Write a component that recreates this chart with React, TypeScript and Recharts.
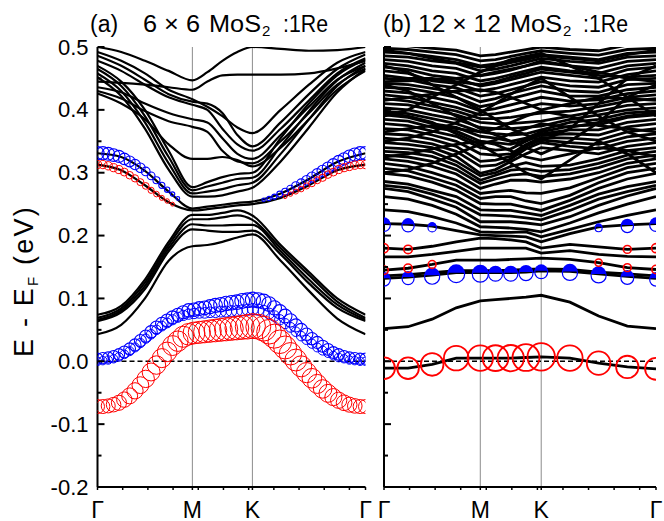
import React from 'react';
import { ComposedChart, Line, Scatter, XAxis, YAxis, ReferenceLine } from 'recharts';

const FONT = "'Liberation Sans', Arial, Helvetica, sans-serif";

// k-path sample points: Γ - M - K - Γ (0..100)
const kPts = [0, 8.85, 17.7, 26.55, 35.4, 41, 46.6, 52.2, 57.8, 68.35, 78.9, 89.45, 100];
const symK = [0, 35.4, 57.8, 100];
const symNames = ['Γ', 'M', 'K', 'Γ'];
const minorK = [9.4, 18.8, 28.2, 37.6, 47, 56.4, 65.8, 75.2, 84.6, 94];
const eTicks = [-0.2, -0.15, -0.1, -0.05, 0, 0.05, 0.1, 0.15, 0.2, 0.25, 0.3, 0.35, 0.4, 0.45, 0.5];

// ---- panel (a): 6x6 supercell bands (eV) ----
const upperA = [
  [0.500, 0.492, 0.478, 0.462, 0.447, 0.460, 0.478, 0.492, 0.500, 0.497, 0.494, 0.495, 0.500],
  [0.445, 0.443, 0.440, 0.436, 0.432, 0.445, 0.455, 0.456, 0.456, 0.456, 0.458, 0.466, 0.478],
  [0.492, 0.478, 0.458, 0.432, 0.417, 0.405, 0.390, 0.372, 0.363, 0.400, 0.440, 0.475, 0.492],
  [0.486, 0.470, 0.448, 0.425, 0.413, 0.410, 0.395, 0.360, 0.342, 0.380, 0.425, 0.465, 0.488],
  [0.478, 0.462, 0.440, 0.420, 0.408, 0.400, 0.370, 0.345, 0.335, 0.370, 0.415, 0.458, 0.482],
  [0.436, 0.428, 0.410, 0.395, 0.385, 0.380, 0.355, 0.330, 0.322, 0.360, 0.405, 0.448, 0.470],
  [0.430, 0.418, 0.398, 0.382, 0.373, 0.365, 0.335, 0.318, 0.315, 0.350, 0.395, 0.440, 0.466],
  [0.426, 0.410, 0.385, 0.345, 0.322, 0.322, 0.325, 0.320, 0.310, 0.340, 0.385, 0.432, 0.462],
];
const steepA = [
  [0.470, 0.445, 0.400, 0.335, 0.277, 0.285, 0.293, 0.298, 0.300, 0.355, 0.410, 0.455, 0.480],
  [0.465, 0.438, 0.390, 0.325, 0.272, 0.278, 0.284, 0.290, 0.292, 0.342, 0.398, 0.447, 0.475],
  [0.458, 0.430, 0.380, 0.315, 0.267, 0.270, 0.274, 0.280, 0.284, 0.330, 0.385, 0.438, 0.470],
  [0.452, 0.422, 0.370, 0.305, 0.262, 0.262, 0.264, 0.270, 0.276, 0.318, 0.372, 0.428, 0.465],
];
const lowerA = [
  [0.074, 0.088, 0.130, 0.190, 0.233, 0.233, 0.236, 0.240, 0.232, 0.185, 0.142, 0.100, 0.074],
  [0.069, 0.084, 0.125, 0.185, 0.226, 0.226, 0.229, 0.232, 0.225, 0.180, 0.137, 0.095, 0.069],
  [0.066, 0.081, 0.120, 0.180, 0.218, 0.216, 0.216, 0.217, 0.217, 0.175, 0.130, 0.090, 0.066],
  [0.064, 0.078, 0.115, 0.175, 0.210, 0.208, 0.206, 0.206, 0.208, 0.170, 0.124, 0.085, 0.064],
  [0.043, 0.058, 0.100, 0.160, 0.183, 0.185, 0.190, 0.197, 0.202, 0.160, 0.112, 0.068, 0.043],
];
const fatLinesA = [
  [0.331, 0.325, 0.303, 0.270, 0.243, 0.246, 0.249, 0.252, 0.254, 0.267, 0.290, 0.317, 0.331],
  [0.313, 0.304, 0.280, 0.253, 0.240, 0.242, 0.245, 0.248, 0.250, 0.260, 0.280, 0.304, 0.313],
];

// fat-band projections of panel (a): energy and orbital weight on a dense k grid
const kDense = [0, 2, 4, 6, 8, 10, 12, 14, 16, 18, 20, 22, 24, 26, 28, 30, 32, 34, 36, 38, 40, 42, 44, 46, 48, 50,
  52, 54, 56, 58, 60, 62, 64, 66, 68, 70, 72, 74, 76, 78, 80, 82, 84, 86, 88, 90, 92, 94, 96, 98, 100];
const redA = [-0.072, -0.072, -0.071, -0.069, -0.066, -0.061, -0.055, -0.047, -0.038, -0.028,
  -0.017, -0.006, 0.005, 0.015, 0.025, 0.032, 0.039, 0.043, 0.045, 0.046,
  0.047, 0.048, 0.049, 0.050, 0.051, 0.052, 0.053, 0.054, 0.055, 0.056,
  0.055, 0.052, 0.047, 0.040, 0.031, 0.022, 0.012, 0.002, -0.008, -0.018,
  -0.027, -0.036, -0.044, -0.051, -0.057, -0.062, -0.066, -0.069, -0.071, -0.072, -0.072];
const redAW = [0.5, 0.5, 0.5, 0.52, 0.54, 0.55, 0.57, 0.58, 0.6, 0.62,
  0.64, 0.66, 0.68, 0.7, 0.71, 0.73, 0.75, 0.77, 0.78, 0.79,
  0.79, 0.8, 0.81, 0.82, 0.83, 0.84, 0.85, 0.86, 0.88, 0.89,
  0.89, 0.89, 0.88, 0.86, 0.84, 0.82, 0.8, 0.78, 0.75, 0.72,
  0.7, 0.68, 0.66, 0.64, 0.61, 0.58, 0.56, 0.54, 0.52, 0.5, 0.5];
const blueA1 = [0.004, 0.005, 0.006, 0.008, 0.011, 0.015, 0.020, 0.026, 0.033, 0.040,
  0.047, 0.054, 0.060, 0.065, 0.070, 0.074, 0.078, 0.081, 0.082, 0.084,
  0.085, 0.087, 0.089, 0.090, 0.092, 0.093, 0.094, 0.096, 0.097, 0.098,
  0.097, 0.095, 0.091, 0.085, 0.079, 0.072, 0.065, 0.057, 0.050, 0.043,
  0.036, 0.030, 0.024, 0.019, 0.014, 0.011, 0.008, 0.006, 0.005, 0.004, 0.004];
const blueA1W = [0.40, 0.40, 0.40, 0.41, 0.41, 0.42, 0.42, 0.43, 0.43, 0.44,
  0.44, 0.45, 0.45, 0.46, 0.46, 0.47, 0.47, 0.48, 0.48, 0.49,
  0.49, 0.50, 0.50, 0.51, 0.51, 0.52, 0.52, 0.53, 0.53, 0.54,
  0.54, 0.53, 0.52, 0.51, 0.50, 0.49, 0.48, 0.47, 0.46, 0.45,
  0.44, 0.43, 0.43, 0.42, 0.42, 0.41, 0.41, 0.40, 0.40, 0.40, 0.40];
const blueA2 = [0.000, 0.001, 0.002, 0.004, 0.007, 0.011, 0.016, 0.022, 0.029, 0.036,
  0.043, 0.050, 0.056, 0.061, 0.066, 0.070, 0.073, 0.075, 0.076, 0.077,
  0.077, 0.078, 0.078, 0.079, 0.079, 0.080, 0.080, 0.081, 0.082, 0.083,
  0.082, 0.080, 0.076, 0.072, 0.066, 0.060, 0.054, 0.047, 0.040, 0.034,
  0.028, 0.022, 0.017, 0.013, 0.009, 0.006, 0.004, 0.002, 0.001, 0.000, 0.000];
const blueA2W = [0.30, 0.30, 0.30, 0.30, 0.31, 0.31, 0.32, 0.32, 0.33, 0.33,
  0.34, 0.34, 0.35, 0.35, 0.36, 0.36, 0.37, 0.37, 0.37, 0.38,
  0.38, 0.38, 0.38, 0.39, 0.39, 0.39, 0.39, 0.40, 0.40, 0.40,
  0.40, 0.40, 0.39, 0.38, 0.37, 0.36, 0.35, 0.34, 0.34, 0.33,
  0.33, 0.32, 0.32, 0.31, 0.31, 0.31, 0.30, 0.30, 0.30, 0.30, 0.30];
const blueTopA = [0.331, 0.331, 0.330, 0.328, 0.326, 0.322, 0.318, 0.313, 0.308, 0.302,
  0.295, 0.288, 0.280, 0.273, 0.266, 0.259, null, null, null, null,
  null, null, null, null, null, null, null, null, null, null,
  null, 0.257, 0.259, 0.262, 0.266, 0.270, 0.274, 0.279, 0.283, 0.288,
  0.293, 0.298, 0.303, 0.308, 0.313, 0.318, 0.322, 0.326, 0.329, 0.331, 0.331];
const blueTopAW = [0.47, 0.47, 0.46, 0.45, 0.43, 0.41, 0.39, 0.37, 0.34, 0.31,
  0.28, 0.25, 0.22, 0.19, 0.16, 0.13, 0, 0, 0, 0,
  0, 0, 0, 0, 0, 0, 0, 0, 0, 0,
  0, 0.12, 0.15, 0.18, 0.21, 0.24, 0.27, 0.3, 0.32, 0.34,
  0.36, 0.38, 0.4, 0.41, 0.42, 0.43, 0.44, 0.45, 0.46, 0.47, 0.47];
const redTopA = [0.313, 0.313, 0.311, 0.308, 0.305, 0.301, 0.296, 0.291, 0.285, 0.279,
  0.272, 0.266, 0.260, 0.255, 0.250, null, null, null, null, null,
  null, null, null, null, null, null, null, null, null, null,
  null, null, null, null, null, 0.262, 0.266, 0.270, 0.274, 0.279,
  0.283, 0.288, 0.292, 0.297, 0.301, 0.305, 0.308, 0.310, 0.312, 0.313, 0.313];
const redTopAW = [0.3, 0.3, 0.3, 0.29, 0.29, 0.28, 0.27, 0.26, 0.25, 0.24,
  0.22, 0.2, 0.18, 0.16, 0.14, 0, 0, 0, 0, 0,
  0, 0, 0, 0, 0, 0, 0, 0, 0, 0,
  0, 0, 0, 0, 0, 0.14, 0.16, 0.18, 0.2, 0.22,
  0.24, 0.25, 0.26, 0.27, 0.28, 0.29, 0.29, 0.3, 0.3, 0.3, 0.3];

// ---- panel (b): 12x12 supercell bands (eV) ----
const lowB = [
  [-0.011, -0.011, -0.005, 0.005, 0.005, 0.005, 0.005, 0.006, 0.007, 0.005, -0.003, -0.009, -0.012],
  [0.052, 0.055, 0.067, 0.085, 0.096, 0.098, 0.100, 0.102, 0.105, 0.094, 0.072, 0.056, 0.052],
  [0.132, 0.134, 0.137, 0.141, 0.141, 0.141, 0.141, 0.142, 0.144, 0.143, 0.139, 0.135, 0.132],
  [0.136, 0.138, 0.141, 0.144, 0.144, 0.144, 0.145, 0.146, 0.147, 0.146, 0.142, 0.139, 0.136],
  [0.145, 0.148, 0.154, 0.161, 0.161, 0.161, 0.162, 0.163, 0.164, 0.162, 0.157, 0.149, 0.146],
  [0.166, 0.166, 0.170, 0.175, 0.180, 0.180, 0.180, 0.180, 0.172, 0.176, 0.170, 0.167, 0.166],
  [0.180, 0.178, 0.183, 0.190, 0.196, 0.195, 0.193, 0.190, 0.180, 0.186, 0.182, 0.178, 0.180],
  [0.219, 0.218, 0.215, 0.208, 0.201, 0.200, 0.199, 0.198, 0.190, 0.203, 0.214, 0.217, 0.219],
  [0.241, 0.238, 0.230, 0.220, 0.206, 0.205, 0.205, 0.206, 0.198, 0.210, 0.222, 0.232, 0.241],
  [0.262, 0.258, 0.248, 0.234, 0.214, 0.213, 0.212, 0.210, 0.206, 0.220, 0.236, 0.250, 0.262],
  [0.275, 0.270, 0.258, 0.245, 0.222, 0.222, 0.222, 0.220, 0.217, 0.230, 0.248, 0.263, 0.275],
  [0.280, 0.276, 0.266, 0.253, 0.233, 0.232, 0.231, 0.228, 0.225, 0.240, 0.258, 0.270, 0.280],
  [0.286, 0.282, 0.272, 0.262, 0.241, 0.240, 0.240, 0.236, 0.232, 0.248, 0.266, 0.278, 0.286],
  [0.299, 0.295, 0.285, 0.272, 0.251, 0.250, 0.250, 0.245, 0.240, 0.256, 0.275, 0.290, 0.299],
  [0.307, 0.303, 0.292, 0.280, 0.259, 0.262, 0.262, 0.255, 0.251, 0.264, 0.284, 0.300, 0.307],
  [0.315, 0.310, 0.300, 0.288, 0.267, 0.270, 0.272, 0.268, 0.267, 0.276, 0.292, 0.308, 0.315],
];
const upperB = [
  [0.322, 0.318, 0.310, 0.298, 0.275, 0.282, 0.288, 0.288, 0.285, 0.290, 0.300, 0.315, 0.322],
  [0.328, 0.325, 0.318, 0.305, 0.283, 0.290, 0.296, 0.298, 0.294, 0.298, 0.308, 0.322, 0.328],
  [0.334, 0.332, 0.326, 0.312, 0.288, 0.296, 0.304, 0.306, 0.302, 0.305, 0.315, 0.328, 0.334],
  [0.340, 0.338, 0.333, 0.318, 0.295, 0.300, 0.310, 0.316, 0.310, 0.312, 0.322, 0.335, 0.340],
  [0.348, 0.345, 0.340, 0.326, 0.299, 0.305, 0.318, 0.330, 0.340, 0.335, 0.330, 0.342, 0.348],
  [0.355, 0.352, 0.346, 0.334, 0.310, 0.312, 0.322, 0.338, 0.348, 0.342, 0.338, 0.350, 0.355],
  [0.362, 0.360, 0.353, 0.342, 0.318, 0.320, 0.326, 0.342, 0.352, 0.348, 0.345, 0.357, 0.362],
  [0.370, 0.368, 0.360, 0.350, 0.330, 0.328, 0.330, 0.345, 0.356, 0.355, 0.352, 0.365, 0.370],
  [0.378, 0.375, 0.366, 0.358, 0.340, 0.336, 0.338, 0.350, 0.360, 0.362, 0.360, 0.373, 0.378],
  [0.385, 0.382, 0.372, 0.366, 0.350, 0.348, 0.345, 0.352, 0.362, 0.368, 0.368, 0.380, 0.385],
  [0.392, 0.388, 0.378, 0.372, 0.358, 0.355, 0.350, 0.355, 0.365, 0.374, 0.376, 0.388, 0.392],
  [0.398, 0.394, 0.386, 0.378, 0.365, 0.362, 0.360, 0.362, 0.368, 0.380, 0.385, 0.395, 0.398],
  [0.403, 0.400, 0.392, 0.385, 0.372, 0.370, 0.370, 0.372, 0.374, 0.385, 0.392, 0.400, 0.403],
  [0.410, 0.408, 0.400, 0.392, 0.380, 0.378, 0.378, 0.380, 0.382, 0.390, 0.398, 0.407, 0.410],
  [0.418, 0.414, 0.406, 0.398, 0.386, 0.386, 0.388, 0.392, 0.395, 0.398, 0.405, 0.414, 0.418],
  [0.424, 0.420, 0.412, 0.404, 0.392, 0.394, 0.398, 0.404, 0.410, 0.406, 0.410, 0.420, 0.424],
  [0.430, 0.427, 0.420, 0.412, 0.398, 0.402, 0.408, 0.414, 0.420, 0.414, 0.416, 0.426, 0.430],
  [0.436, 0.434, 0.428, 0.420, 0.405, 0.410, 0.418, 0.424, 0.430, 0.422, 0.422, 0.432, 0.436],
  [0.442, 0.440, 0.434, 0.428, 0.413, 0.418, 0.426, 0.432, 0.438, 0.430, 0.428, 0.440, 0.442],
  [0.450, 0.448, 0.440, 0.435, 0.422, 0.426, 0.432, 0.438, 0.445, 0.438, 0.436, 0.448, 0.450],
  [0.462, 0.458, 0.446, 0.442, 0.430, 0.434, 0.440, 0.446, 0.452, 0.446, 0.444, 0.456, 0.462],
  [0.468, 0.464, 0.455, 0.450, 0.438, 0.442, 0.448, 0.454, 0.460, 0.455, 0.450, 0.464, 0.468],
  [0.474, 0.470, 0.462, 0.458, 0.446, 0.450, 0.456, 0.462, 0.468, 0.462, 0.458, 0.470, 0.474],
  [0.480, 0.477, 0.470, 0.466, 0.454, 0.458, 0.463, 0.470, 0.475, 0.470, 0.466, 0.477, 0.480],
  [0.486, 0.484, 0.478, 0.474, 0.462, 0.465, 0.470, 0.476, 0.482, 0.477, 0.474, 0.484, 0.486],
  [0.492, 0.490, 0.485, 0.480, 0.470, 0.473, 0.478, 0.483, 0.488, 0.484, 0.480, 0.490, 0.492],
  [0.498, 0.496, 0.492, 0.488, 0.478, 0.480, 0.485, 0.490, 0.494, 0.490, 0.487, 0.496, 0.498],
  [0.505, 0.502, 0.498, 0.495, 0.486, 0.488, 0.492, 0.496, 0.500, 0.496, 0.494, 0.503, 0.505],
];
const crossB = [
  [0.390, 0.400, 0.420, 0.440, 0.460, 0.470, 0.480, 0.485, 0.490, 0.470, 0.450, 0.420, 0.390],
  [0.440, 0.430, 0.410, 0.390, 0.370, 0.360, 0.350, 0.340, 0.330, 0.350, 0.380, 0.420, 0.440],
  [0.350, 0.355, 0.365, 0.380, 0.395, 0.410, 0.425, 0.438, 0.450, 0.420, 0.390, 0.365, 0.350],
  [0.470, 0.460, 0.440, 0.420, 0.400, 0.385, 0.370, 0.360, 0.350, 0.370, 0.410, 0.450, 0.470],
  [0.300, 0.305, 0.315, 0.330, 0.345, 0.330, 0.315, 0.300, 0.290, 0.320, 0.350, 0.330, 0.300],
  [0.325, 0.330, 0.338, 0.345, 0.350, 0.345, 0.335, 0.325, 0.320, 0.330, 0.340, 0.335, 0.325],
  [0.395, 0.390, 0.380, 0.362, 0.345, 0.352, 0.362, 0.370, 0.378, 0.372, 0.380, 0.390, 0.395],
  [0.415, 0.420, 0.425, 0.430, 0.432, 0.428, 0.420, 0.410, 0.400, 0.410, 0.420, 0.418, 0.415],
  [0.455, 0.450, 0.450, 0.445, 0.440, 0.445, 0.452, 0.458, 0.465, 0.460, 0.455, 0.452, 0.455],
  [0.365, 0.370, 0.375, 0.370, 0.365, 0.370, 0.380, 0.390, 0.398, 0.390, 0.375, 0.370, 0.365],
  [0.495, 0.490, 0.482, 0.475, 0.468, 0.470, 0.475, 0.480, 0.486, 0.482, 0.478, 0.488, 0.495],
  [0.445, 0.446, 0.448, 0.450, 0.455, 0.460, 0.465, 0.470, 0.478, 0.470, 0.460, 0.450, 0.445],
];
// fat-band weights of panel (b) at kPts
const redBW = [0.78, 0.77, 0.81, 0.88, 0.91, 0.92, 0.94, 0.96, 0.98, 0.91, 0.84, 0.8, 0.78];
const blueBW = [0.45, 0.43, 0.54, 0.6, 0.57, 0.5, 0.5, 0.5, 0.46, 0.54, 0.54, 0.46, 0.45];
const smallRedBW = [0.3, 0.3, 0.28, 0, 0, 0, 0, 0, 0, 0, 0.26, 0.28, 0.3];
const redMidBW = [0.32, 0.3, 0, 0, 0, 0, 0, 0, 0, 0, 0, 0.28, 0.32];
const blueMidBW = [0.45, 0.44, 0.3, 0, 0, 0, 0, 0, 0, 0, 0.25, 0.44, 0.45];

const allA = [...upperA, ...steepA, ...lowerA, ...fatLinesA];
const allB = [...lowB, ...upperB, ...crossB];

function buildRows(bands: number[][]) {
  return kPts.map((k, i) => {
    const row: Record<string, number> = { k };
    bands.forEach((b, j) => {
      row['b' + j] = b[i];
    });
    return row;
  });
}

function fatPoints(ks: number[], es: (number | null)[], ws: number[]) {
  return ks
    .map((k, i) => ({ k, e: es[i], w: ws[i] }))
    .filter((p) => p.e !== null && p.w > 0);
}

const rowsA = buildRows(allA);
const rowsB = buildRows(allB);

const ring = (color: string, sw = 1.1) => (p: any) =>
  <circle cx={p.cx} cy={p.cy} r={p.payload.w * 14} fill="none" stroke={color} strokeWidth={sw} />;

const halfDisc = (p: any) => {
  const r = p.payload.w * 14;
  const { cx, cy } = p;
  return (
    <g>
      <circle cx={cx} cy={cy + 1.5} r={r} fill="none" stroke="#0000ff" strokeWidth={1.2} />
      <path d={`M ${cx - r} ${cy} A ${r} ${r} 0 0 1 ${cx + r} ${cy} Z`} fill="#0000ff" />
    </g>
  );
};

const fatsA = [
  { data: fatPoints(kDense, blueTopA, blueTopAW), shape: ring('#0000ff', 1.1) },
  { data: fatPoints(kDense, redTopA, redTopAW), shape: ring('#ff0000', 1) },
  { data: fatPoints(kDense, blueA2, blueA2W), shape: ring('#0000ff', 1) },
  { data: fatPoints(kDense, blueA1, blueA1W), shape: ring('#0000ff', 1.1) },
  { data: fatPoints(kDense, redA, redAW), shape: ring('#ff0000', 1) },
];
const fatsB = [
  { data: fatPoints(kPts, lowB[0], redBW), shape: ring('#ff0000', 1.8) },
  { data: fatPoints(kPts, lowB[2], blueBW), shape: halfDisc },
  { data: fatPoints(kPts, lowB[4], smallRedBW), shape: ring('#ff0000', 1.6) },
  { data: fatPoints(kPts, lowB[6], redMidBW), shape: ring('#ff0000', 1.6) },
  { data: fatPoints(kPts, lowB[7], blueMidBW), shape: halfDisc },
];

const PLOT_BOTTOM = 487;
const axisStyle = { stroke: '#000', strokeWidth: 2 };

const leftTick = (plotLeft: number, showLabel: boolean) => (props: any) => {
  const { y, payload } = props;
  const v = payload.value;
  const major = Math.abs(Math.round(v * 10) - v * 10) < 1e-6;
  return (
    <g>
      <line x1={plotLeft} x2={plotLeft + (major ? 7 : 4)} y1={y} y2={y} stroke="#000" strokeWidth={2} />
      {showLabel && major && (
        <text x={plotLeft - 9} y={y} textAnchor="end" dominantBaseline="central" fontSize={22} fontFamily={FONT} fill="#000">
          {v.toFixed(1)}
        </text>
      )}
    </g>
  );
};

const rightTick = (plotRight: number) => (props: any) => {
  const { y, payload } = props;
  const v = payload.value;
  const major = Math.abs(Math.round(v * 10) - v * 10) < 1e-6;
  return <line x1={plotRight} x2={plotRight - (major ? 7 : 4)} y1={y} y2={y} stroke="#000" strokeWidth={2} />;
};

const bottomTick = (props: any) => {
  const { x, payload } = props;
  const idx = symK.indexOf(payload.value);
  return (
    <g>
      <line x1={x} x2={x} y1={PLOT_BOTTOM} y2={PLOT_BOTTOM + 3} stroke="#000" strokeWidth={1.5} />
      {idx >= 0 && (
        <text x={x} y={PLOT_BOTTOM + 31} textAnchor="middle" fontSize={23} fontFamily={FONT} fill="#000">
          {symNames[idx]}
        </text>
      )}
    </g>
  );
};

interface PanelProps {
  width: number;
  plotLeft: number;
  plotRight: number;
  rows: Record<string, number>[];
  nBands: number;
  curve: 'monotone' | 'linear';
  lineWidth: number;
  fats: { data: any[]; shape: any }[];
  showLabels: boolean;
}

function BandPanel({ width, plotLeft, plotRight, rows, nBands, curve, lineWidth, fats, showLabels }: PanelProps) {
  return (
    <ComposedChart
      width={width}
      height={521}
      data={rows}
      margin={{ top: 47, right: width - plotRight, bottom: 0, left: 0 }}
    >
      <XAxis
        dataKey="k"
        type="number"
        domain={[0, 100]}
        ticks={[...symK, ...minorK]}
        interval={0}
        height={34}
        axisLine={axisStyle}
        tickLine={false}
        tick={bottomTick}
        allowDataOverflow
      />
      <XAxis xAxisId="top" orientation="top" type="number" domain={[0, 100]} height={0} tick={false} tickLine={false} axisLine={axisStyle} />
      <YAxis
        type="number"
        domain={[-0.2, 0.5]}
        ticks={eTicks}
        interval={0}
        width={plotLeft}
        allowDataOverflow
        axisLine={axisStyle}
        tickLine={false}
        tick={leftTick(plotLeft, showLabels)}
      />
      <YAxis
        yAxisId="r"
        orientation="right"
        type="number"
        domain={[-0.2, 0.5]}
        ticks={eTicks}
        interval={0}
        width={0}
        axisLine={axisStyle}
        tickLine={false}
        tick={rightTick(plotRight)}
      />
      <ReferenceLine x={symK[1]} stroke="#8c8c8c" strokeWidth={1} />
      <ReferenceLine x={symK[2]} stroke="#8c8c8c" strokeWidth={1} />
      {Array.from({ length: nBands }).map((_, j) => (
        <Line
          key={j}
          dataKey={'b' + j}
          type={curve}
          stroke="#000"
          strokeWidth={lineWidth}
          dot={false}
          activeDot={false}
          isAnimationActive={false}
        />
      ))}
      {fats.map((f, i) => (
        <Scatter key={'f' + i} data={f.data} dataKey="e" shape={f.shape} isAnimationActive={false} />
      ))}
      <ReferenceLine y={0} stroke="#000" strokeWidth={1.6} strokeDasharray="5 3" />
    </ComposedChart>
  );
}

export default function App() {
  return (
    <div style={{ position: 'absolute', left: 0, top: 0, width: 664, height: 521, background: '#fff', overflow: 'hidden' }}>
      <div style={{ position: 'absolute', left: 0, top: 0 }}>
        <BandPanel width={380} plotLeft={97.5} plotRight={365.5} rows={rowsA} nBands={allA.length} curve="monotone" lineWidth={2.2} fats={fatsA} showLabels />
      </div>
      <div style={{ position: 'absolute', left: 370, top: 0 }}>
        <BandPanel width={294} plotLeft={14} plotRight={286} rows={rowsB} nBands={allB.length} curve="linear" lineWidth={2.8} fats={fatsB} showLabels={false} />
      </div>
      <svg width={664} height={521} style={{ position: 'absolute', left: 0, top: 0, pointerEvents: 'none' }} fontFamily={FONT}>
        <text x={90} y={32} fontSize={23}>(a)</text>
        <text x={143} y={32} fontSize={23} textLength={57} lengthAdjust="spacingAndGlyphs">6 × 6</text>
        <text x={209} y={32} fontSize={23} textLength={52} lengthAdjust="spacingAndGlyphs">MoS</text>
        <text x={262} y={36} fontSize={15}>2</text>
        <text x={283} y={32} fontSize={23} textLength={45} lengthAdjust="spacingAndGlyphs">:1Re</text>
        <text x={383} y={32} fontSize={23}>(b)</text>
        <text x={418} y={32} fontSize={23} textLength={83} lengthAdjust="spacingAndGlyphs">12 × 12</text>
        <text x={510} y={32} fontSize={23} textLength={52} lengthAdjust="spacingAndGlyphs">MoS</text>
        <text x={563} y={36} fontSize={15}>2</text>
        <text x={583} y={32} fontSize={23} textLength={45} lengthAdjust="spacingAndGlyphs">:1Re</text>
        <text transform="translate(33,357) rotate(-90)" fontSize={27} letterSpacing={2.2}>
          E - E
          <tspan dy={5} fontSize={15}>F</tspan>
          <tspan dy={-5}> (eV)</tspan>
        </text>
      </svg>
    </div>
  );
}
